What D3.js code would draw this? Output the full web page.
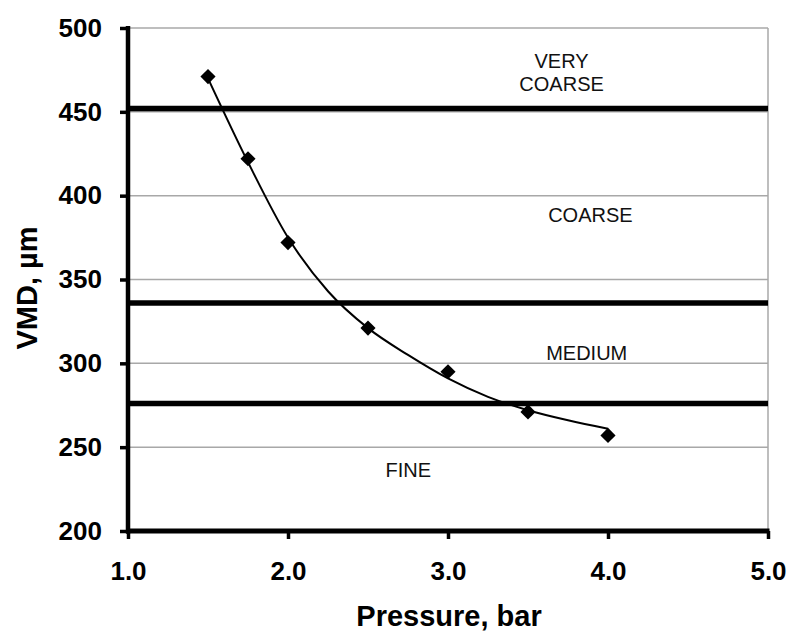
<!DOCTYPE html>
<html>
<head>
<meta charset="utf-8">
<script src="https://cdn.jsdelivr.net/npm/d3@7"></script>
<style>
  html, body { margin: 0; padding: 0; background: #fff; }
  svg { display: block; }
  text { font-family: "Liberation Sans", Arial, sans-serif; }
</style>
</head>
<body>
<svg id="chart" width="790" height="635"></svg>
<script>
// ---------- data ----------
const pressure = [1.5, 1.75, 2.0, 2.5, 3.0, 3.5, 4.0];
const vmd      = [471, 422, 372, 321, 295, 271, 257];

// trend line
const trendPressure = [1.5, 1.75, 2.0, 2.25, 2.5, 2.75, 3.0, 3.25, 3.5, 3.75, 4.0];
const trendVmd      = [470, 420, 375, 343, 321, 305, 291, 280, 272, 266, 261];

// droplet class boundaries (VMD, µm)
const classBoundaries = [452, 336, 276];
const classNames = [["VERY", "COARSE"], ["COARSE"], ["MEDIUM"], ["FINE"]];

const xTicks = [1, 2, 3, 4, 5];
const yTicks = [200, 250, 300, 350, 400, 450, 500];
const xDomain = [1, 5];
const yDomain = [200, 500];
const xTitle = "Pressure, bar";
const yTitle = "VMD, µm";

// ---------- drawing ----------
const svg = d3.select("#chart");
const L = 128, R = 768, T = 28, B = 531;

const x = d3.scaleLinear().domain(xDomain).range([L, R]);
const y = d3.scaleLinear().domain(yDomain).range([B, T]);

// gridlines
svg.append("g").selectAll("line").data(yTicks.filter(v => v > yDomain[0]))
  .join("line")
  .attr("x1", L).attr("x2", R)
  .attr("y1", d => y(d)).attr("y2", d => y(d))
  .attr("stroke", "#a8a8a8").attr("stroke-width", 1.5);

// right border
svg.append("line")
  .attr("x1", R).attr("x2", R).attr("y1", y(yDomain[1])).attr("y2", y(yDomain[0]))
  .attr("stroke", "#a8a8a8").attr("stroke-width", 1.5);

// class boundary lines
svg.append("g").selectAll("line").data(classBoundaries)
  .join("line")
  .attr("x1", L).attr("x2", R)
  .attr("y1", d => y(d)).attr("y2", d => y(d))
  .attr("stroke", "#000").attr("stroke-width", 5.5);

// class labels (anchors in data units, first-line baseline)
const labelAnchors = [
  { p: 3.71, v: 476.4 },
  { p: 3.89, v: 384.3 },
  { p: 3.867, v: 301.8 },
  { p: 2.752, v: 232.2 }
];
classNames.forEach((lines, i) => {
  const t = svg.append("text")
    .attr("x", x(labelAnchors[i].p))
    .attr("y", y(labelAnchors[i].v))
    .attr("text-anchor", "middle")
    .attr("font-size", 20)
    .attr("fill", "#111");
  lines.forEach((s, j) => {
    t.append("tspan")
      .attr("x", x(labelAnchors[i].p))
      .attr("dy", j === 0 ? 0 : 23)
      .text(s);
  });
});

// trend curve
const line = d3.line()
  .x((d, i) => x(trendPressure[i]))
  .y(d => y(d))
  .curve(d3.curveMonotoneX);
svg.append("path")
  .datum(trendVmd)
  .attr("d", line)
  .attr("fill", "none")
  .attr("stroke", "#000")
  .attr("stroke-width", 2);

// markers
const diamond = d3.symbol().type(d3.symbolSquare).size(115);
svg.append("g").selectAll("path").data(pressure)
  .join("path")
  .attr("d", diamond)
  .attr("transform", (d, i) => `translate(${x(d)},${y(vmd[i])}) rotate(45)`)
  .attr("fill", "#000");

// axes
const yAxis = d3.axisLeft(y).tickValues(yTicks).tickSize(8).tickSizeOuter(0).tickPadding(18)
  .tickFormat(d3.format("d"));
const gy = svg.append("g").attr("transform", `translate(${L},0)`).call(yAxis);
gy.select(".domain").remove();
gy.selectAll(".tick line").attr("stroke", "#000").attr("stroke-width", 3.5);
gy.selectAll(".tick text").attr("font-size", 26).attr("font-weight", "bold")
  .attr("fill", "#000").attr("font-family", "Liberation Sans, Arial, sans-serif");

const xAxis = d3.axisBottom(x).tickValues(xTicks).tickSize(8).tickSizeOuter(0).tickPadding(23)
  .tickFormat(d3.format(".1f"));
const gx = svg.append("g").attr("transform", `translate(0,${B})`).call(xAxis);
gx.select(".domain").remove();
gx.selectAll(".tick line").attr("stroke", "#000").attr("stroke-width", 3.5);
gx.selectAll(".tick text").attr("font-size", 26).attr("font-weight", "bold")
  .attr("fill", "#000").attr("font-family", "Liberation Sans, Arial, sans-serif");

// axis lines
svg.append("line")
  .attr("x1", L).attr("x2", L).attr("y1", y(yDomain[1]) - 2).attr("y2", B + 2.5)
  .attr("stroke", "#000").attr("stroke-width", 4.5);
svg.append("line")
  .attr("x1", L - 2).attr("x2", R + 1.5).attr("y1", B).attr("y2", B)
  .attr("stroke", "#000").attr("stroke-width", 5);

// titles
svg.append("text")
  .attr("x", (L + R) / 2 + 1).attr("y", 626)
  .attr("text-anchor", "middle")
  .attr("font-size", 29).attr("font-weight", "bold")
  .text(xTitle);
svg.append("text")
  .attr("transform", `translate(37,${288}) rotate(-90)`)
  .attr("text-anchor", "middle")
  .attr("font-size", 29).attr("font-weight", "bold")
  .text(yTitle);
</script>
</body>
</html>
